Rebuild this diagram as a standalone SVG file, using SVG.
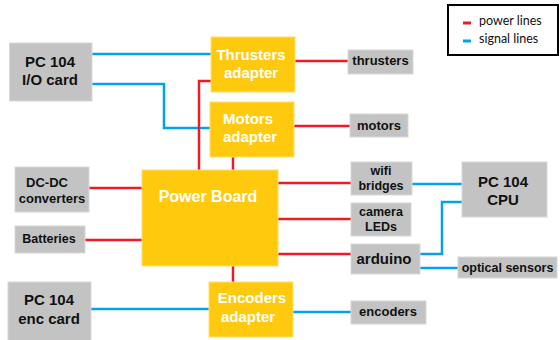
<svg xmlns="http://www.w3.org/2000/svg" width="560" height="340" viewBox="0 0 560 340">
<style>
.g{fill:#c3c3c3;stroke:#d8d8d8;stroke-width:1}
.y{fill:#ffc90e;stroke:#ffe070;stroke-width:1}
.t{font-family:"Liberation Sans",Arial,sans-serif;font-weight:bold;text-anchor:middle;fill:#111}
.w{font-family:"Liberation Sans",Arial,sans-serif;font-weight:bold;text-anchor:middle;fill:#fff}
.p{fill:none;stroke:#ed1c24;stroke-width:2.5}
.s{fill:none;stroke:#00a2e8;stroke-width:2.5}
.l{font-family:Lato,"Open Sans",sans-serif;font-size:12.5px;fill:#111}
</style>
<rect width="560" height="340" fill="#fff"/>
<g id="connectors">
<path class="s" d="M92 54H211"/>
<path class="s" d="M92 84H164V128H211"/>
<path class="p" d="M211 81H199V170"/>
<path class="p" d="M233 157V170"/>
<path class="p" d="M294 61H349"/>
<path class="p" d="M294 126H351"/>
<path class="p" d="M89 188H143"/>
<path class="p" d="M85 240H143"/>
<path class="p" d="M277 183H351"/>
<path class="p" d="M277 219H351"/>
<path class="p" d="M277 254H351"/>
<path class="p" d="M233 266V283"/>
<path class="s" d="M91 309H209"/>
<path class="s" d="M293 312H351"/>
<path class="s" d="M412 184H462"/>
<path class="s" d="M420 254H442V202H462"/>
<path class="s" d="M420 268H459"/>
</g>
<g id="legend">
<rect x="448" y="5" width="110" height="50" fill="#fff" stroke="#000" stroke-width="2"/>
<path d="M463 23H471" stroke="#ed1c24" stroke-width="3"/>
<path d="M463 41H471" stroke="#00a2e8" stroke-width="3"/>
<text class="l" x="479" y="25">power lines</text>
<text class="l" x="479" y="43">signal lines</text>
</g>
<g id="io_card">
<rect class="g" x="9.5" y="43" width="82.5" height="58"/>
<text class="t" x="50" y="67" font-size="15">PC 104</text>
<text class="t" x="50" y="85" font-size="15">I/O card</text>
</g>
<g id="thrusters_adapter">
<rect class="y" x="211" y="37" width="84" height="55"/>
<text class="w" x="251" y="60" font-size="15">Thrusters</text>
<text class="w" x="251" y="78" font-size="15">adapter</text>
</g>
<g id="motors_adapter">
<rect class="y" x="210" y="102" width="84" height="55"/>
<text class="w" x="248" y="124" font-size="15">Motors</text>
<text class="w" x="250" y="142" font-size="15">adapter</text>
</g>
<g id="thrusters">
<rect class="g" x="348" y="50" width="65" height="24"/>
<text class="t" x="380.5" y="65" font-size="13">thrusters</text>
</g>
<g id="motors">
<rect class="g" x="350" y="114" width="58" height="23"/>
<text class="t" x="379" y="130" font-size="13">motors</text>
</g>
<g id="dcdc">
<rect class="g" x="15" y="167" width="74" height="45"/>
<text class="t" x="47" y="187" font-size="13">DC-DC</text>
<text class="t" x="52" y="203" font-size="13">converters</text>
</g>
<g id="batteries">
<rect class="g" x="15" y="226" width="70" height="27"/>
<text class="t" x="49" y="243" font-size="12.5">Batteries</text>
</g>
<g id="power_board">
<rect class="y" x="142" y="170" width="136" height="96"/>
<text class="w" x="208" y="202" font-size="16">Power Board</text>
</g>
<g id="wifi">
<rect class="g" x="351" y="162" width="61" height="33"/>
<text class="t" x="381" y="175" font-size="12.5">wifi</text>
<text class="t" x="381" y="190" font-size="12.5">bridges</text>
</g>
<g id="cpu">
<rect class="g" x="462" y="162" width="85" height="55"/>
<text class="t" x="503" y="187" font-size="15">PC 104</text>
<text class="t" x="503" y="205" font-size="15">CPU</text>
</g>
<g id="camera">
<rect class="g" x="351" y="203" width="60" height="33"/>
<text class="t" x="381" y="216" font-size="12.5">camera</text>
<text class="t" x="381" y="231" font-size="12.5">LEDs</text>
</g>
<g id="arduino">
<rect class="g" x="351" y="244" width="69" height="30"/>
<text class="t" x="384" y="264" font-size="15">arduino</text>
</g>
<g id="optical">
<rect class="g" x="458" y="257" width="99" height="21"/>
<text class="t" x="507.5" y="272" font-size="12.5">optical sensors</text>
</g>
<g id="encoders_adapter">
<rect class="y" x="209" y="282" width="84" height="55"/>
<text class="w" x="252" y="303" font-size="15">Encoders</text>
<text class="w" x="248" y="322" font-size="15">adapter</text>
</g>
<g id="enc_card">
<rect class="g" x="8" y="282" width="83" height="60"/>
<text class="t" x="49" y="305" font-size="15">PC 104</text>
<text class="t" x="49" y="324" font-size="15">enc card</text>
</g>
<g id="encoders">
<rect class="g" x="351" y="301" width="75" height="23"/>
<text class="t" x="388" y="316" font-size="13">encoders</text>
</g>
</svg>
